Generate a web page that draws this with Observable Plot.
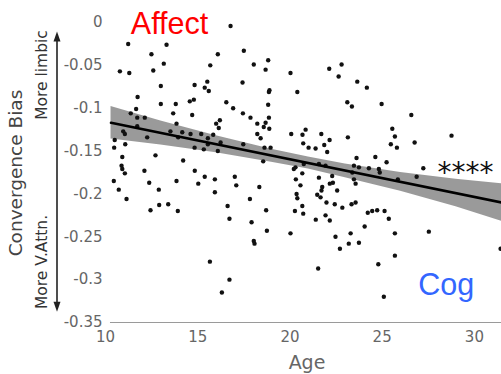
<!DOCTYPE html>
<html><head><meta charset="utf-8">
<script src="https://cdn.jsdelivr.net/npm/d3@7"></script>
<script src="https://cdn.jsdelivr.net/npm/@observablehq/plot@0.6"></script>
<style>body{margin:0;background:#fff;overflow:hidden}</style>
</head><body><div id="chart"></div>
<script>
const age = [
16.78,11.23,13.31,12.49,16.09,17.50,13.16,15.68,18.04,18.82,
10.78,11.29,12.59,18.68,20.03,15.52,14.83,17.43,13.00,15.38,
15.60,18.89,18.86,20.40,11.74,14.57,14.79,13.00,13.81,16.55,
18.82,11.66,16.92,11.37,13.67,14.70,17.45,11.72,12.13,17.86,
18.86,16.20,13.85,16.00,18.23,18.68,11.72,16.14,18.58,18.88,
10.96,11.05,13.52,14.16,14.61,15.19,15.84,18.23,20.07,12.26,
13.94,15.55,18.41,10.50,11.07,10.47,15.55,16.24,14.83,15.33,
16.09,18.62,18.95,17.47,12.71,10.91,10.87,10.91,11.05,12.11,
14.21,14.84,15.38,15.93,17.01,18.55,20.30,10.45,12.37,13.85,
15.03,17.09,18.34,20.32,10.72,12.89,15.93,20.36,20.40,11.14,
17.83,12.44,12.91,13.40,13.92,16.62,18.71,20.27,16.72,17.92,
18.75,20.03,18.04,18.08,15.66,16.72,16.31,
22.13,22.80,22.64,23.65,24.17,23.11,23.36,24.97,26.58,20.85,
20.68,21.70,22.15,20.72,21.01,21.39,21.86,22.02,23.14,25.55,
25.69,25.47,25.80,26.76,28.76,23.61,24.63,
25.24,27.23,20.75,21.57,21.93,23.47,23.74,24.28,24.82,24.87,
20.21,20.67,22.29,23.38,23.47,23.56,25.85,26.87,21.57,22.16,
22.33,20.57,21.75,21.71,22.56,21.48,21.66,20.67,21.98,22.43,
22.84,23.34,23.56,20.72,21.93,24.22,24.46,24.73,25.13,21.40,
22.16,25.36,24.05,23.29,25.69,27.53,22.47,23.19,23.74,22.71,
25.69,24.79,21.53,25.09,31.42
];
const bias = [
-0.004,-0.025,-0.026,-0.037,-0.037,-0.033,-0.048,-0.050,-0.049,-0.044,
-0.057,-0.059,-0.056,-0.055,-0.059,-0.069,-0.073,-0.070,-0.074,-0.076,
-0.080,-0.079,-0.081,-0.081,-0.087,-0.092,-0.090,-0.095,-0.095,-0.093,
-0.096,-0.101,-0.100,-0.106,-0.106,-0.108,-0.106,-0.111,-0.111,-0.111,
-0.111,-0.114,-0.118,-0.118,-0.118,-0.117,-0.121,-0.123,-0.122,-0.124,
-0.127,-0.130,-0.127,-0.128,-0.130,-0.130,-0.131,-0.130,-0.130,-0.134,
-0.134,-0.135,-0.135,-0.137,-0.142,-0.146,-0.142,-0.140,-0.146,-0.148,
-0.150,-0.146,-0.146,-0.142,-0.155,-0.157,-0.167,-0.171,-0.176,-0.173,
-0.161,-0.173,-0.180,-0.183,-0.180,-0.162,-0.169,-0.185,-0.187,-0.185,
-0.188,-0.190,-0.192,-0.183,-0.195,-0.195,-0.198,-0.200,-0.205,-0.206,
-0.206,-0.219,-0.213,-0.212,-0.220,-0.214,-0.219,-0.220,-0.229,-0.233,
-0.243,-0.246,-0.255,-0.258,-0.279,-0.300,-0.315,
-0.054,-0.049,-0.063,-0.069,-0.076,-0.093,-0.098,-0.095,-0.108,-0.125,
-0.131,-0.130,-0.137,-0.141,-0.146,-0.147,-0.143,-0.151,-0.134,-0.124,
-0.133,-0.142,-0.146,-0.140,-0.132,-0.158,-0.157,
-0.163,-0.170,-0.165,-0.165,-0.167,-0.167,-0.169,-0.170,-0.171,-0.175,
-0.171,-0.176,-0.179,-0.175,-0.183,-0.188,-0.183,-0.180,-0.181,-0.188,
-0.187,-0.190,-0.192,-0.196,-0.196,-0.201,-0.204,-0.214,-0.210,-0.212,
-0.216,-0.212,-0.210,-0.223,-0.225,-0.222,-0.220,-0.219,-0.220,-0.230,
-0.231,-0.229,-0.238,-0.246,-0.246,-0.244,-0.250,-0.258,-0.257,-0.264,
-0.272,-0.282,-0.287,-0.320,-0.264
];
// regression fit
const fitAge = [10.3, 31.47];
const fitBias = [-0.117, -0.210];
// confidence band
const bandAge  = [10.3, 13, 16, 19, 21, 23, 26, 29, 31.47];
const bandLow  = [-0.136, -0.143, -0.152, -0.163, -0.171, -0.181, -0.197, -0.215, -0.232];
const bandHigh = [-0.098, -0.115, -0.132, -0.148, -0.157, -0.165, -0.175, -0.183, -0.188];
const xTicks = [10, 15, 20, 25, 30];
const yTicks = [0, -0.05, -0.1, -0.15, -0.2, -0.25, -0.3, -0.35];
const labels = [
  {text: "Affect", age: 13.47, bias: -0.002, color: "#ff0000", font: "Liberation Sans", size: 30.5},
  {text: "Cog", age: 28.47, bias: -0.307, color: "#3366ff", font: "Liberation Sans", size: 30.5},
  {text: "****", age: 29.52, bias: -0.168, color: "#111", font: "DejaVu Sans", size: 28}
];
const arrowTop = -0.011, arrowBottom = -0.338;

const pts = age.map((a, i) => ({age: a, bias: bias[i]}));
const fit = fitAge.map((a, i) => ({age: a, bias: fitBias[i]}));
const band = bandAge.map((a, i) => ({age: a, lo: bandLow[i], hi: bandHigh[i]}));

const plot = Plot.plot({
  width: 501, height: 374,
  marginLeft: 105, marginRight: 0, marginTop: 22, marginBottom: 52,
  style: {fontFamily: "DejaVu Sans", background: "#fff"},
  x: {domain: [10, 31.47]},
  y: {domain: [-0.35, 0]},
  marks: [
    Plot.areaY(band, {x: "age", y1: "lo", y2: "hi", fill: "#8f8f8f", fillOpacity: 0.9}),
    Plot.ruleY([-0.35], {x1: 10.27, x2: 31.47, stroke: "#9a9a9a", strokeWidth: 1.2}),
    Plot.dot(pts, {x: "age", y: "bias", r: 2.2, fill: "#111", stroke: "none"}),
    Plot.line(fit, {x: "age", y: "bias", stroke: "#000", strokeWidth: 2.6}),
    ...labels.map(l => Plot.text([l], {x: "age", y: "bias", text: "text", fill: l.color,
      fontSize: l.size, fontFamily: l.font, dy: l.text === "****" ? 7 : 0})),
    Plot.axisX(xTicks, {tickSize: 0, tickPadding: 9, fontSize: 15, fill: "#666", label: null}),
    Plot.axisY(yTicks, {tickSize: 0, tickPadding: 3, fontSize: 15, fill: "#666", label: null,
      tickFormat: d => d === 0 ? "0" : String(d)})
  ]
});
document.getElementById("chart").appendChild(plot);

const svg = d3.select(plot);
const ys = plot.scale("y");
const yT = ys.apply(arrowTop), yB = ys.apply(arrowBottom);
const ax = 57;
svg.append("line").attr("x1", ax).attr("x2", ax).attr("y1", yT + 6).attr("y2", yB - 6)
  .attr("stroke", "#222").attr("stroke-width", 1.6);
svg.append("path").attr("d", `M${ax},${yT} L${ax-3.5},${yT+10} L${ax+3.5},${yT+10} Z`).attr("fill", "#222");
svg.append("path").attr("d", `M${ax},${yB} L${ax-3.5},${yB-10} L${ax+3.5},${yB-10} Z`).attr("fill", "#222");

function vtext(t, x, y, size, color) {
  svg.append("text").attr("transform", `translate(${x},${y}) rotate(-90)`)
    .attr("text-anchor", "middle").attr("dominant-baseline", "central")
    .attr("font-family", "DejaVu Sans").attr("font-size", size).attr("fill", color).text(t);
}
vtext("Convergence Bias", 15.5, 173, 18.5, "#444");
vtext("More limbic", 41.5, 75, 15.5, "#333");
vtext("More V.Attn.", 41.5, 262, 15.5, "#333");
svg.append("text").attr("x", 307).attr("y", 362).attr("text-anchor", "middle")
  .attr("dominant-baseline", "central").attr("font-family", "DejaVu Sans")
  .attr("font-size", 19).attr("fill", "#666").text("Age");
</script>
</body></html>
